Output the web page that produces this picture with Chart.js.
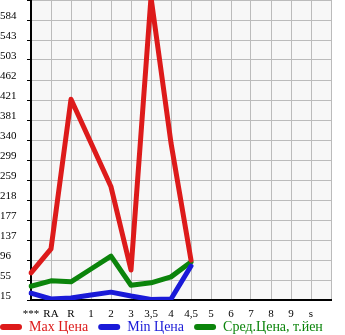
<!DOCTYPE html>
<html>
<head>
<meta charset="utf-8">
<script src="https://cdn.jsdelivr.net/npm/chart.js@4.4.0/dist/chart.umd.min.js"></script>
<style>
  body { margin: 0; background: #fff; }
  canvas { display: block; }
</style>
</head>
<body>
<canvas id="priceChart" width="345" height="335"></canvas>
<script>
// categories on x axis (last slot is empty)
var categories = ['***', 'RA', 'R', '1', '2', '3', '3,5', '4', '4,5', '5', '6', '7', '8', '9', 's', ''];

// values
var maxPrice = [70, 119, 423, 334, 245, 76, 630, 334, 96, null, null, null, null, null, null, null];
var minPrice = [29, 17, 19, 25, 31, 23, 16, 17, 84, null, null, null, null, null, null, null];
var avgPrice = [43, 54, 52, 78, 104, 45, 50, 62, 92, null, null, null, null, null, null, null];

// y tick labels, bottom to top (top line has no label)
var yTickLabels = ['15', '55', '96', '137', '177', '218', '259', '299', '340', '381', '421', '462', '503', '543', '584', ''];
var yMin = 15;
var yStep = (584 - 15) / 14;

var seriesNames = ['Max Цена', 'Min Цена', 'Сред.Цена, т.йен'];
var seriesColors = ['#dd1a1a', '#1a1ad8', '#0b840b'];

var serif = '"Liberation Serif", "Times New Roman", serif';

// grey plot background
var plotBg = {
    id: 'plotBg',
    beforeDraw: function (chart) {
        var a = chart.chartArea;
        var ctx = chart.ctx;
        ctx.save();
        ctx.fillStyle = '#f7f7f7';
        ctx.fillRect(a.left, a.top, a.right - a.left, a.bottom - a.top);
        ctx.restore();
    }
};

// move the legend up and to the left edge, like the original
var legendMove = {
    id: 'legendMove',
    afterLayout: function (chart) {
        var lg = chart.legend;
        if (lg) {
            lg.top -= 10;
            lg.bottom -= 10;
            lg.left -= 10;
            lg.right -= 10;
        }
    }
};

function makeSet(i, data) {
    return {
        label: seriesNames[i],
        data: data,
        borderColor: seriesColors[i],
        backgroundColor: seriesColors[i],
        borderWidth: 5,
        pointRadius: 0,
        borderJoinStyle: 'round',
        borderCapStyle: 'round',
        tension: 0
    };
}

var ctx = document.getElementById('priceChart');
var chart = new Chart(ctx, {
    type: 'line',
    data: {
        labels: categories,
        datasets: [makeSet(0, maxPrice), makeSet(1, minPrice), makeSet(2, avgPrice)]
    },
    plugins: [plotBg, legendMove],
    options: {
        responsive: false,
        animation: false,
        layout: { padding: { left: 0, right: 0, top: 0, bottom: -19 } },
        scales: {
            x: {
                offset: false,
                grid: { color: '#bbbbbb', lineWidth: 1, drawTicks: false },
                border: { color: '#000', width: 2 },
                ticks: {
                    autoSkip: false,
                    maxRotation: 0,
                    padding: 8,
                    color: '#000',
                    font: { family: serif, size: 11 }
                },
                afterFit: function (s) { s.height = 20; s.paddingLeft = 0; s.paddingRight = 0; }
            },
            y: {
                min: yMin,
                max: yMin + 15 * yStep,
                afterBuildTicks: function (s) {
                    s.ticks = yTickLabels.map(function (l, i) { return { value: yMin + i * yStep }; });
                },
                grid: { color: '#bbbbbb', lineWidth: 1, tickColor: '#000', tickLength: 4 },
                border: { color: '#000', width: 2 },
                ticks: {
                    color: '#000',
                    padding: 2,
                    crossAlign: 'far',
                    labelOffset: -4,
                    font: { family: serif, size: 11 },
                    callback: function (v, i) { return yTickLabels[i]; }
                },
                afterFit: function (s) { s.width = 31; s.paddingTop = 0; s.paddingBottom = 0; }
            },
            yRight: {
                position: 'right',
                display: true,
                grid: { display: false },
                border: { display: false },
                ticks: { display: false },
                afterFit: function (s) { s.width = 14; s.paddingTop = 0; s.paddingBottom = 0; }
            }
        },
        plugins: {
            tooltip: { enabled: false },
            legend: {
                position: 'bottom',
                align: 'start',
                labels: {
                    boxWidth: 22,
                    boxHeight: 6,
                    useBorderRadius: true,
                    borderRadius: 3,
                    padding: 10,
                    font: { family: serif, size: 14 },
                    generateLabels: function (c) {
                        var items = Chart.defaults.plugins.legend.labels.generateLabels(c);
                        items.forEach(function (it, i) {
                            it.fontColor = seriesColors[i];
                            it.fillStyle = seriesColors[i];
                            it.lineWidth = 0;
                        });
                        return items;
                    }
                }
            }
        }
    }
});
</script>
</body>
</html>
